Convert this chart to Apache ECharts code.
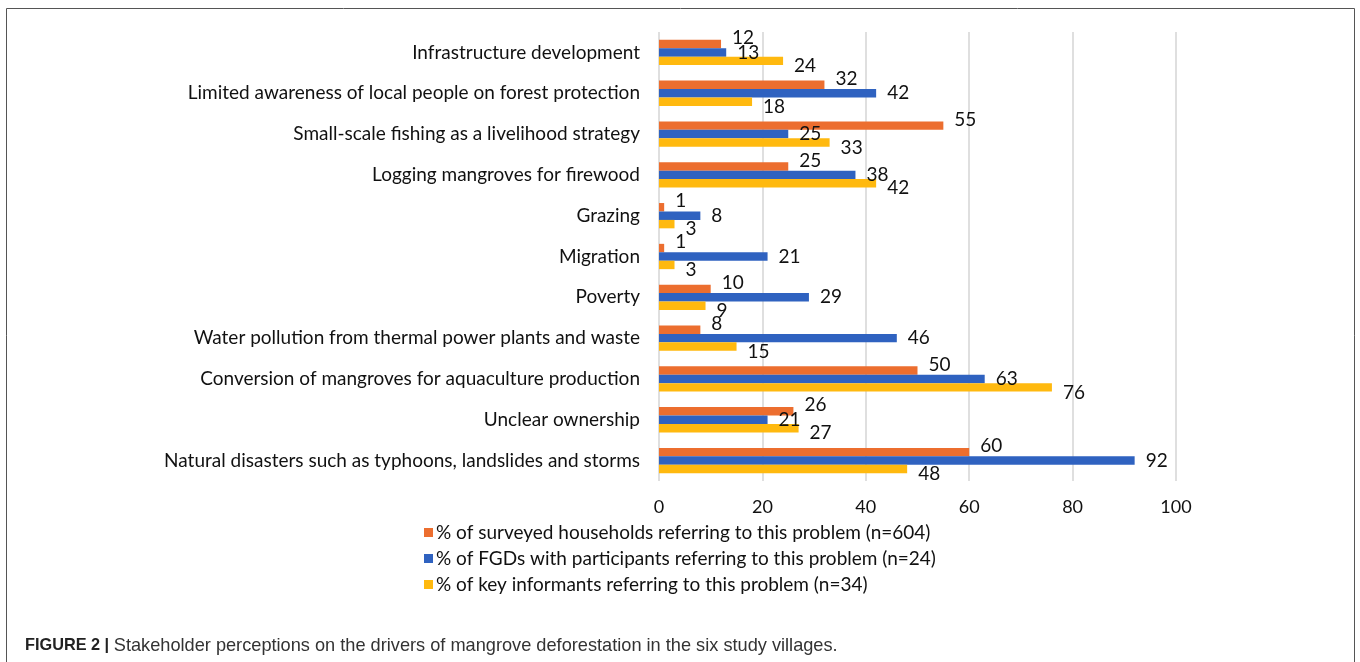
<!DOCTYPE html>
<html>
<head>
<meta charset="utf-8">
<title>Drivers of mangrove deforestation</title>
<script src="https://cdn.jsdelivr.net/npm/echarts@6/dist/echarts.min.js"></script>
<style>
    html, body { margin: 0; padding: 0; background: #fff; }
    #chart { width: 1360px; height: 662px; }
</style>
</head>
<body>
<div id="chart"></div>
<script>
// categories, top to bottom as in the figure
var categories = [
    'Infrastructure development',
    'Limited awareness of local people on forest protection',
    'Small-scale fishing as a livelihood strategy',
    'Logging mangroves for firewood',
    'Grazing',
    'Migration',
    'Poverty',
    'Water pollution from thermal power plants and waste',
    'Conversion of mangroves for aquaculture production',
    'Unclear ownership',
    'Natural disasters such as typhoons, landslides and storms'
];
var households = [12, 32, 55, 25, 1, 1, 10, 8, 50, 26, 60];
var fgds = [13, 42, 25, 38, 8, 21, 29, 46, 63, 21, 92];
var informants = [24, 18, 33, 42, 3, 3, 9, 15, 76, 27, 48];
var seriesNames = [
    '% of surveyed households referring to this problem (n=604)',
    '% of FGDs with participants referring to this problem (n=24)',
    '% of key informants referring to this problem (n=34)'
];
var xTicks = [0, 20, 40, 60, 80, 100];

var FONT = 'Lato';
var chart = echarts.init(document.getElementById('chart'));

function barSeries(name, data, color, dy) {
    return {
        name: name,
        type: 'bar',
        data: data,
        barGap: '0%',
        barCategoryGap: '38%',
        itemStyle: { color: color },
        label: {
            show: true,
            position: 'right',
            distance: 11,
            offset: [0, dy],
            fontFamily: FONT,
            fontSize: 19,
            color: '#111'
        },
        emphasis: { disabled: true }
    };
}

var option = {
    animation: false,
    textStyle: { fontFamily: FONT },
    title: {
        left: 20,
        top: 632,
        text: '{b|FIGURE 2 |} {n|Stakeholder perceptions on the drivers of mangrove deforestation in the six study villages.}',
        textStyle: {
            fontWeight: 'normal',
            rich: {
                b: { fontFamily: 'Liberation Sans', fontWeight: 'bold', fontSize: 16.3, color: '#222' },
                n: { fontFamily: 'Liberation Sans', fontWeight: 'normal', fontSize: 18.2, color: '#333' }
            }
        }
    },
    legend: {
        orient: 'vertical',
        left: 419,
        top: 518,
        itemWidth: 9,
        itemHeight: 9,
        itemGap: 7,
        icon: 'rect',
        textStyle: { fontFamily: FONT, fontSize: 19, color: '#111', padding: [0, 0, 0, -2] },
        data: seriesNames
    },
    grid: {
        left: 659,
        top: 32,
        width: 517,
        height: 449,
        containLabel: false
    },
    xAxis: {
        type: 'value',
        min: xTicks[0],
        max: xTicks[xTicks.length - 1],
        interval: 20,
        axisLine: { show: false },
        axisTick: { show: false },
        splitLine: { lineStyle: { color: '#d4d4d4', width: 1.5 } },
        axisLabel: { fontFamily: FONT, fontSize: 18, color: '#111', margin: 17 }
    },
    yAxis: {
        type: 'category',
        inverse: true,
        data: categories,
        axisLine: { show: false },
        axisTick: { show: false },
        axisLabel: { fontFamily: FONT, fontSize: 19, color: '#111', margin: 19 }
    },
    graphic: [{
        type: 'rect',
        shape: { x: 6.5, y: 8.5, width: 1348, height: 700 },
        style: { fill: 'none', stroke: '#555', lineWidth: 1 },
        silent: true
    }],
    series: [
        barSeries(seriesNames[0], households, '#EC6E2F', -6),
        barSeries(seriesNames[1], fgds, '#2F62C0', 0),
        barSeries(seriesNames[2], informants, '#FFB90F', 5)
    ]
};

chart.setOption(option);
window.addEventListener('resize', chart.resize);
</script>
</body>
</html>
